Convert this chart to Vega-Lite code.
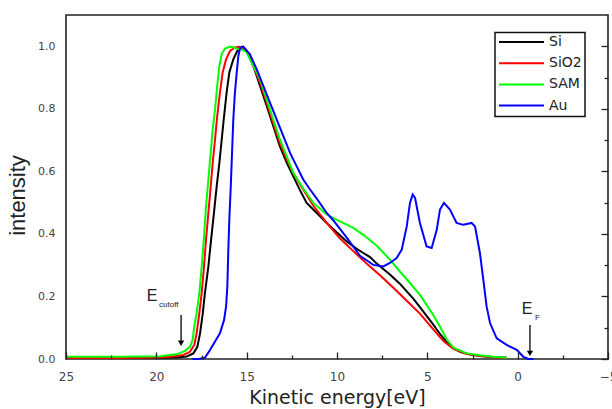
{
  "$schema": "https://vega.github.io/schema/vega-lite/v6.json",
  "autosize": {"type": "none"},
  "padding": {"left": 66, "top": 15, "right": 4, "bottom": 50},
  "width": 542,
  "height": 344,
  "background": "white",
  "config": {
    "view": {"stroke": "#222", "strokeWidth": 1.6},
    "font": "DejaVu Sans"
  },
  "datasets": {
    "curves": [
      {"s":"Si","x":25,"y":0.003},{"s":"Si","x":22,"y":0.003},{"s":"Si","x":20,"y":0.004},{"s":"Si","x":18.9,"y":0.005},{"s":"Si","x":18.32,"y":0.008},{"s":"Si","x":17.95,"y":0.018},{"s":"Si","x":17.73,"y":0.039},{"s":"Si","x":17.58,"y":0.082},{"s":"Si","x":17.43,"y":0.146},{"s":"Si","x":17.31,"y":0.211},{"s":"Si","x":17.12,"y":0.296},{"s":"Si","x":16.97,"y":0.381},{"s":"Si","x":16.81,"y":0.467},{"s":"Si","x":16.66,"y":0.552},{"s":"Si","x":16.51,"y":0.627},{"s":"Si","x":16.38,"y":0.702},{"s":"Si","x":16.25,"y":0.777},{"s":"Si","x":16.11,"y":0.852},{"s":"Si","x":15.96,"y":0.916},{"s":"Si","x":15.74,"y":0.958},{"s":"Si","x":15.52,"y":0.985},{"s":"Si","x":15.27,"y":0.998},{"s":"Si","x":15.0,"y":0.985},{"s":"Si","x":14.63,"y":0.937},{"s":"Si","x":14.26,"y":0.873},{"s":"Si","x":13.89,"y":0.809},{"s":"Si","x":13.53,"y":0.745},{"s":"Si","x":13.16,"y":0.68},{"s":"Si","x":12.78,"y":0.627},{"s":"Si","x":12.42,"y":0.584},{"s":"Si","x":12.05,"y":0.54},{"s":"Si","x":11.68,"y":0.499},{"s":"Si","x":11.12,"y":0.467},{"s":"Si","x":10.57,"y":0.435},{"s":"Si","x":10.02,"y":0.405},{"s":"Si","x":9.46,"y":0.376},{"s":"Si","x":8.91,"y":0.352},{"s":"Si","x":8.54,"y":0.339},{"s":"Si","x":8.17,"y":0.326},{"s":"Si","x":7.8,"y":0.305},{"s":"Si","x":7.44,"y":0.288},{"s":"Si","x":7.07,"y":0.27},{"s":"Si","x":6.51,"y":0.24},{"s":"Si","x":6.14,"y":0.216},{"s":"Si","x":5.78,"y":0.193},{"s":"Si","x":5.41,"y":0.166},{"s":"Si","x":5.04,"y":0.138},{"s":"Si","x":4.67,"y":0.11},{"s":"Si","x":4.3,"y":0.08},{"s":"Si","x":3.93,"y":0.054},{"s":"Si","x":3.56,"y":0.035},{"s":"Si","x":3.19,"y":0.023},{"s":"Si","x":2.6,"y":0.014},{"s":"Si","x":2.0,"y":0.009},{"s":"Si","x":1.3,"y":0.006},{"s":"Si","x":0.6,"y":0.004},
      {"s":"SiO2","x":25,"y":0.003},{"s":"SiO2","x":22,"y":0.003},{"s":"SiO2","x":20,"y":0.005},{"s":"SiO2","x":19.2,"y":0.007},{"s":"SiO2","x":18.51,"y":0.013},{"s":"SiO2","x":18.14,"y":0.023},{"s":"SiO2","x":17.9,"y":0.045},{"s":"SiO2","x":17.77,"y":0.082},{"s":"SiO2","x":17.62,"y":0.146},{"s":"SiO2","x":17.49,"y":0.211},{"s":"SiO2","x":17.36,"y":0.296},{"s":"SiO2","x":17.25,"y":0.381},{"s":"SiO2","x":17.12,"y":0.467},{"s":"SiO2","x":16.99,"y":0.552},{"s":"SiO2","x":16.88,"y":0.627},{"s":"SiO2","x":16.75,"y":0.702},{"s":"SiO2","x":16.63,"y":0.777},{"s":"SiO2","x":16.48,"y":0.852},{"s":"SiO2","x":16.33,"y":0.916},{"s":"SiO2","x":16.14,"y":0.958},{"s":"SiO2","x":15.92,"y":0.985},{"s":"SiO2","x":15.65,"y":0.996},{"s":"SiO2","x":15.41,"y":0.998},{"s":"SiO2","x":15.0,"y":0.985},{"s":"SiO2","x":14.63,"y":0.937},{"s":"SiO2","x":14.26,"y":0.884},{"s":"SiO2","x":13.89,"y":0.82},{"s":"SiO2","x":13.53,"y":0.755},{"s":"SiO2","x":13.16,"y":0.691},{"s":"SiO2","x":12.78,"y":0.638},{"s":"SiO2","x":12.42,"y":0.595},{"s":"SiO2","x":11.87,"y":0.542},{"s":"SiO2","x":11.31,"y":0.49},{"s":"SiO2","x":10.57,"y":0.435},{"s":"SiO2","x":9.83,"y":0.385},{"s":"SiO2","x":9.1,"y":0.345},{"s":"SiO2","x":8.36,"y":0.305},{"s":"SiO2","x":7.62,"y":0.268},{"s":"SiO2","x":6.88,"y":0.228},{"s":"SiO2","x":6.14,"y":0.186},{"s":"SiO2","x":5.41,"y":0.145},{"s":"SiO2","x":4.67,"y":0.095},{"s":"SiO2","x":4.12,"y":0.058},{"s":"SiO2","x":3.56,"y":0.032},{"s":"SiO2","x":2.82,"y":0.016},{"s":"SiO2","x":2.09,"y":0.01},{"s":"SiO2","x":1.16,"y":0.005},{"s":"SiO2","x":0.59,"y":0.004},
      {"s":"SAM","x":25,"y":0.007},{"s":"SAM","x":22,"y":0.007},{"s":"SAM","x":20.9,"y":0.008},{"s":"SAM","x":19.8,"y":0.009},{"s":"SAM","x":18.87,"y":0.015},{"s":"SAM","x":18.41,"y":0.026},{"s":"SAM","x":18.14,"y":0.039},{"s":"SAM","x":17.99,"y":0.061},{"s":"SAM","x":17.9,"y":0.104},{"s":"SAM","x":17.77,"y":0.146},{"s":"SAM","x":17.62,"y":0.211},{"s":"SAM","x":17.49,"y":0.296},{"s":"SAM","x":17.36,"y":0.392},{"s":"SAM","x":17.25,"y":0.488},{"s":"SAM","x":17.12,"y":0.574},{"s":"SAM","x":16.99,"y":0.659},{"s":"SAM","x":16.88,"y":0.734},{"s":"SAM","x":16.75,"y":0.798},{"s":"SAM","x":16.63,"y":0.873},{"s":"SAM","x":16.51,"y":0.937},{"s":"SAM","x":16.38,"y":0.975},{"s":"SAM","x":16.2,"y":0.993},{"s":"SAM","x":15.92,"y":0.999},{"s":"SAM","x":15.55,"y":0.993},{"s":"SAM","x":15.27,"y":0.99},{"s":"SAM","x":15.0,"y":0.981},{"s":"SAM","x":14.63,"y":0.937},{"s":"SAM","x":14.26,"y":0.894},{"s":"SAM","x":13.89,"y":0.83},{"s":"SAM","x":13.53,"y":0.766},{"s":"SAM","x":13.16,"y":0.702},{"s":"SAM","x":12.78,"y":0.648},{"s":"SAM","x":12.42,"y":0.595},{"s":"SAM","x":11.87,"y":0.545},{"s":"SAM","x":11.31,"y":0.499},{"s":"SAM","x":10.57,"y":0.462},{"s":"SAM","x":9.83,"y":0.44},{"s":"SAM","x":9.1,"y":0.419},{"s":"SAM","x":8.54,"y":0.397},{"s":"SAM","x":7.8,"y":0.362},{"s":"SAM","x":7.07,"y":0.318},{"s":"SAM","x":6.51,"y":0.279},{"s":"SAM","x":6.14,"y":0.255},{"s":"SAM","x":5.41,"y":0.205},{"s":"SAM","x":4.67,"y":0.141},{"s":"SAM","x":4.3,"y":0.104},{"s":"SAM","x":3.93,"y":0.063},{"s":"SAM","x":3.56,"y":0.036},{"s":"SAM","x":2.82,"y":0.018},{"s":"SAM","x":2.09,"y":0.012},{"s":"SAM","x":1.35,"y":0.007},{"s":"SAM","x":0.59,"y":0.004},
      {"s":"Au","x":18.0,"y":0.0},{"s":"Au","x":17.6,"y":0.001},{"s":"Au","x":17.31,"y":0.004},{"s":"Au","x":17.03,"y":0.029},{"s":"Au","x":16.75,"y":0.056},{"s":"Au","x":16.48,"y":0.082},{"s":"Au","x":16.25,"y":0.125},{"s":"Au","x":16.14,"y":0.168},{"s":"Au","x":16.07,"y":0.232},{"s":"Au","x":16.02,"y":0.339},{"s":"Au","x":15.96,"y":0.446},{"s":"Au","x":15.88,"y":0.552},{"s":"Au","x":15.81,"y":0.659},{"s":"Au","x":15.74,"y":0.766},{"s":"Au","x":15.65,"y":0.852},{"s":"Au","x":15.55,"y":0.916},{"s":"Au","x":15.46,"y":0.969},{"s":"Au","x":15.37,"y":0.993},{"s":"Au","x":15.19,"y":0.999},{"s":"Au","x":14.82,"y":0.974},{"s":"Au","x":14.44,"y":0.926},{"s":"Au","x":14.08,"y":0.873},{"s":"Au","x":13.71,"y":0.82},{"s":"Au","x":13.34,"y":0.766},{"s":"Au","x":12.97,"y":0.713},{"s":"Au","x":12.6,"y":0.659},{"s":"Au","x":12.23,"y":0.616},{"s":"Au","x":11.87,"y":0.574},{"s":"Au","x":11.49,"y":0.542},{"s":"Au","x":11.12,"y":0.513},{"s":"Au","x":10.57,"y":0.467},{"s":"Au","x":10.2,"y":0.443},{"s":"Au","x":9.46,"y":0.388},{"s":"Au","x":8.73,"y":0.33},{"s":"Au","x":7.99,"y":0.301},{"s":"Au","x":7.44,"y":0.296},{"s":"Au","x":7.07,"y":0.307},{"s":"Au","x":6.7,"y":0.323},{"s":"Au","x":6.42,"y":0.349},{"s":"Au","x":6.14,"y":0.424},{"s":"Au","x":5.96,"y":0.499},{"s":"Au","x":5.81,"y":0.526},{"s":"Au","x":5.68,"y":0.515},{"s":"Au","x":5.41,"y":0.435},{"s":"Au","x":5.04,"y":0.36},{"s":"Au","x":4.76,"y":0.355},{"s":"Au","x":4.48,"y":0.413},{"s":"Au","x":4.3,"y":0.478},{"s":"Au","x":4.08,"y":0.499},{"s":"Au","x":3.75,"y":0.478},{"s":"Au","x":3.38,"y":0.435},{"s":"Au","x":3.01,"y":0.429},{"s":"Au","x":2.55,"y":0.435},{"s":"Au","x":2.36,"y":0.424},{"s":"Au","x":2.09,"y":0.339},{"s":"Au","x":1.9,"y":0.253},{"s":"Au","x":1.72,"y":0.168},{"s":"Au","x":1.53,"y":0.115},{"s":"Au","x":1.16,"y":0.066},{"s":"Au","x":0.61,"y":0.045},{"s":"Au","x":0.05,"y":0.029},{"s":"Au","x":-0.31,"y":0.007},{"s":"Au","x":-0.59,"y":0.0},{"s":"Au","x":-0.87,"y":0.0}
    ],
    "arrows": [
      {"x": 18.63, "y": 0.141, "y2": 0.05},
      {"x": -0.68, "y": 0.109, "y2": 0.018}
    ],
    "bigtext": [
      {"x": 20.53, "y": 0.202, "t": "E"},
      {"x": -0.22, "y": 0.16, "t": "E"}
    ],
    "subtext": [
      {"x": 19.85, "y": 0.173, "t": "cutoff"},
      {"x": -0.96, "y": 0.131, "t": "F"}
    ]
  },
  "encoding": {
    "x": {"field": "x", "type": "quantitative", "scale": {"domain": [-5, 25], "reverse": true, "nice": false, "zero": false}, "axis": null},
    "y": {"field": "y", "type": "quantitative", "scale": {"domain": [0, 1.1], "nice": false, "zero": false}, "axis": null}
  },
  "resolve": {"axis": {"x": "independent", "y": "independent"}},
  "layer": [
    {
      "data": {"name": "curves"},
      "mark": {"type": "line", "strokeWidth": 2},
      "encoding": {
        "x": {
          "field": "x", "type": "quantitative",
          "scale": {"domain": [-5, 25], "reverse": true, "nice": false, "zero": false},
          "axis": {
            "orient": "bottom", "zindex": 2,
            "title": "Kinetic energy[eV]",
            "values": [25, 20, 15, 10, 5, 0, -5],
            "ticks": false,
            "grid": true, "gridDash": [0, 337, 7, 0], "gridColor": "#222", "gridWidth": 1.3, "gridOpacity": 1,
            "domain": false,
            "labelFont": "DejaVu Sans", "labelFontSize": 12, "labelColor": "#444",
            "labelPadding": 12, "labelOverlap": false, "labelFlush": false,
            "titleFont": "DejaVu Sans", "titleFontSize": 19, "titleFontWeight": "normal",
            "titleColor": "#222", "titlePadding": 6
          }
        },
        "y": {
          "field": "y", "type": "quantitative",
          "scale": {"domain": [0, 1.1], "nice": false, "zero": false},
          "axis": {
            "orient": "left", "zindex": 2,
            "title": "intensity", "titleY": 180,
            "values": [0, 0.2, 0.4, 0.6, 0.8, 1.0],
            "format": ".1f",
            "ticks": false,
            "grid": true, "gridDash": [7, 1000], "gridColor": "#222", "gridWidth": 1.3, "gridOpacity": 1,
            "domain": false,
            "labelFont": "DejaVu Sans", "labelFontSize": 11, "labelColor": "#444",
            "labelPadding": 11, "labelOverlap": false, "labelFlush": false,
            "titleFont": "Liberation Sans", "titleFontSize": 22, "titleFontWeight": "normal",
            "titleColor": "#222", "titlePadding": 8
          }
        },
        "color": {
          "field": "s", "type": "nominal",
          "scale": {"domain": ["Si", "SiO2", "SAM", "Au"], "range": ["#000000", "#ff0000", "#00ff00", "#0000ff"]},
          "legend": {
            "title": null, "orient": "none", "legendX": 429, "legendY": 17.5,
            "strokeColor": "#111", "fillColor": "white", "padding": 3,
            "symbolType": "stroke", "symbolSize": 2025, "symbolStrokeWidth": 2, "clipHeight": 13,
            "rowPadding": 6.2, "labelOffset": 4,
            "labelFont": "DejaVu Sans", "labelFontSize": 14, "labelColor": "#222",
            "encode": {"legend": {"update": {"strokeWidth": {"value": 1.5}}}}
          }
        }
      }
    },
    {
      "data": {"name": "arrows"},
      "mark": {"type": "rule", "color": "#000", "strokeWidth": 1.3},
      "encoding": {
        "x": {
          "field": "x", "type": "quantitative",
          "scale": {"domain": [-5, 25], "reverse": true, "nice": false, "zero": false},
          "axis": {
            "orient": "bottom", "zindex": 2, "title": null, "labels": false, "domain": false,
            "values": [22.5, 17.5, 12.5, 7.5, 2.5, -2.5],
            "ticks": false,
            "grid": true, "gridDash": [0, 340, 4, 0], "gridColor": "#222", "gridWidth": 1.3, "gridOpacity": 1
          }
        },
        "y": {
          "field": "y", "type": "quantitative",
          "scale": {"domain": [0, 1.1], "nice": false, "zero": false},
          "axis": {
            "orient": "left", "zindex": 2, "title": null, "labels": false, "domain": false,
            "values": [0.1, 0.3, 0.5, 0.7, 0.9],
            "ticks": false,
            "grid": true, "gridDash": [4, 1000], "gridColor": "#222", "gridWidth": 1.3, "gridOpacity": 1
          }
        },
        "y2": {"field": "y2"}
      }
    },
    {
      "data": {"name": "arrows"},
      "mark": {"type": "point", "shape": "triangle-down", "filled": true, "color": "#000", "size": 40, "opacity": 1},
      "encoding": {"y": {"field": "y2", "type": "quantitative", "scale": {"domain": [0, 1.1], "nice": false, "zero": false}, "axis": null}}
    },
    {
      "data": {"name": "bigtext"},
      "mark": {"type": "text", "align": "left", "baseline": "middle", "font": "Liberation Sans", "fontSize": 16, "color": "#222"},
      "encoding": {"text": {"field": "t"}}
    },
    {
      "data": {"name": "subtext"},
      "mark": {"type": "text", "align": "left", "baseline": "middle", "font": "Liberation Sans", "fontSize": 8, "color": "#222"},
      "encoding": {"text": {"field": "t"}}
    }
  ]
}
